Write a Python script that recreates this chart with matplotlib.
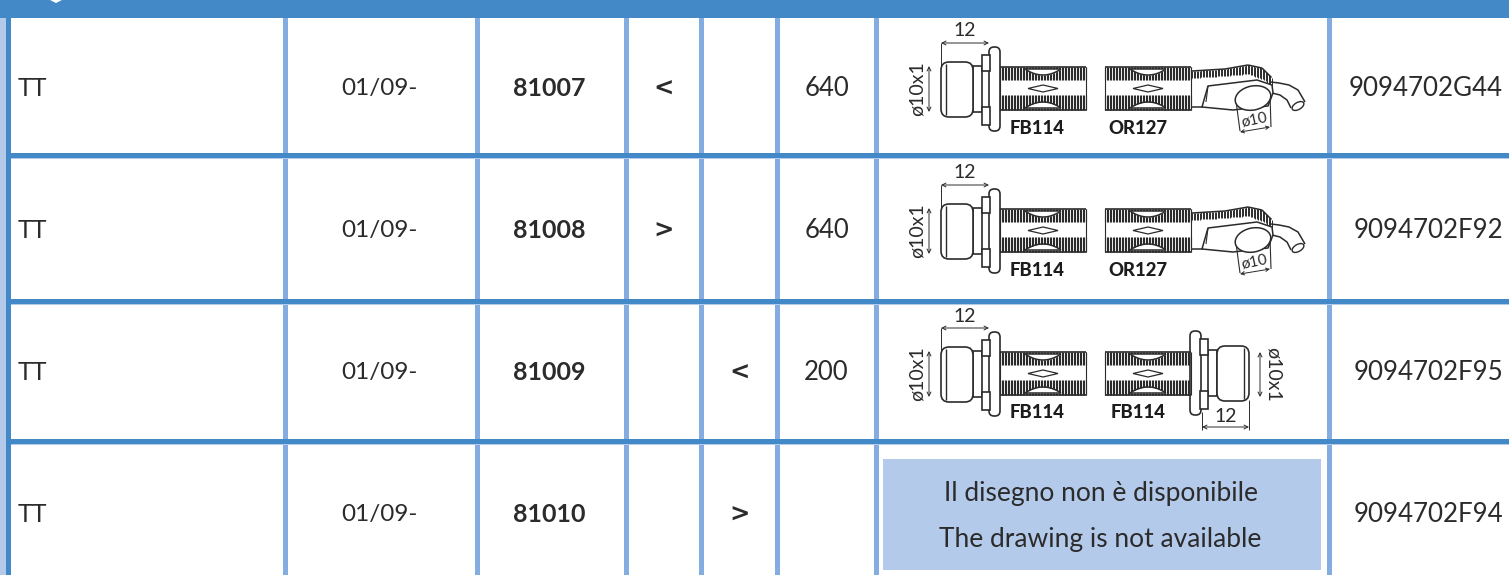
import numpy as np
import matplotlib
matplotlib.use('Agg')
import matplotlib.pyplot as plt
from matplotlib.patches import Rectangle, FancyBboxPatch, Polygon, Ellipse

# table content
models = ['TT', 'TT', 'TT', 'TT']
dates = ['01/09-', '01/09-', '01/09-', '01/09-']
codes = ['81007', '81008', '81009', '81010']
front = ['<', '>', '', '']
rear = ['', '', '<', '>']
lengths = ['640', '640', '200', '']
parts = ['9094702G44', '9094702F92', '9094702F95', '9094702F94']
left_labels = ['FB114', 'FB114', 'FB114']
right_labels = ['OR127', 'OR127', 'FB114']
no_drawing = ['Il disegno non è disponibile', 'The drawing is not available']

# layout in pixels
W, H = 1509, 575
col_lines = [285, 477, 626, 701, 777, 876, 1329]
row_lines = [156, 302, 442]
row_text_y = [88.5, 230.5, 372.5, 514.5]
draw_dy = [0, 142, 285]

DARK = '#4389c8'
LIGHT = '#85ace0'
PALE = '#b4caea'
INK = '#2b2b2b'

plt.rcParams['font.family'] = ['Lato', 'DejaVu Sans']

fig = plt.figure(figsize=(W / 100, H / 100), dpi=100)
ax = fig.add_axes([0, 0, 1, 1])
ax.set_xlim(0, W)
ax.set_ylim(H, 0)
ax.axis('off')


def box(x0, y0, x1, y1, color, z=1):
    ax.add_patch(Rectangle((x0, y0), x1 - x0, y1 - y0, fc=color, ec='none', zorder=z))


def line(xs, ys, lw=1.1, color=INK, z=4):
    ax.plot(xs, ys, color=color, lw=lw, solid_capstyle='butt', zorder=z)


def rounded(x0, y0, x1, y1, r, fc='white'):
    ax.add_patch(FancyBboxPatch((x0 + r, y0 + r), x1 - x0 - 2 * r, y1 - y0 - 2 * r,
                                boxstyle='round,pad=%f,rounding_size=%f' % (r, r),
                                fc=fc, ec=INK, lw=1.2, zorder=3))


def dim_h(x0, x1, y, label, ty):
    ax.annotate('', (x0, y), (x1, y), zorder=5,
                arrowprops=dict(arrowstyle='<->', lw=0.7, color=INK, shrinkA=0, shrinkB=0, mutation_scale=7))
    ax.text((x0 + x1) / 2, ty, label, ha='center', va='center', fontsize=14, color=INK, zorder=5)


def dim_v(x, y0, y1, label, tx, rot):
    ax.annotate('', (x, y0), (x, y1), zorder=5,
                arrowprops=dict(arrowstyle='<->', lw=0.7, color=INK, shrinkA=0, shrinkB=0, mutation_scale=7))
    ax.text(tx, (y0 + y1) / 2, label, ha='center', va='center', rotation=rot, fontsize=14, color=INK, zorder=5)


def fitting(edge, dy, side):
    # edge = flange face where the hose starts, side = -1 fitting on the left, +1 on the right
    def fx(d):
        return edge + side * d
    a, b = sorted((fx(0), fx(11)))
    rounded(a, 47 + dy, b, 131 + dy, 5)
    a, b = sorted((fx(10), fx(18)))
    ax.add_patch(Rectangle((a, 55 + dy), b - a, 16, fc='white', ec=INK, lw=1.2, zorder=3))
    ax.add_patch(Rectangle((a, 107 + dy), b - a, 18, fc='white', ec=INK, lw=1.2, zorder=3))
    a, b = sorted((fx(18), fx(27)))
    ax.add_patch(Rectangle((a, 66 + dy), b - a, 46, fc='white', ec=INK, lw=1.2, zorder=2.9))
    a, b = sorted((fx(27), fx(59)))
    rounded(a, 62 + dy, b, 117 + dy, 8)
    # line across the nut
    line([fx(54), fx(54)], [64 + dy, 115 + dy], 1.0)


def hose(x0, x1, dy):
    top, bot = 67 + dy, 110 + dy
    ticks = np.arange(x0, x1, 1.5)
    ax.vlines(ticks, top, top + 13, color=INK, lw=0.8, zorder=3)
    ax.vlines(ticks, bot - 15, bot, color=INK, lw=0.8, zorder=3)
    line([x0, x1], [top, top], 1.2)
    line([x0, x1], [bot, bot], 1.2)
    line([x1, x1], [top, bot], 0.8)
    line([x0, x0], [top, bot], 0.8)
    cx = (x0 + x1) / 2
    # crimp marks
    t = np.linspace(-1, 1, 25)
    upper = 69 + dy + 6 * (1 - t ** 2)
    ax.fill_between(cx + 18 * t, 68.5 + dy + 0 * t, upper, color='white', lw=0, zorder=4)
    line(cx + 18 * t, upper, 1.1)
    line([cx - 18, cx + 18], [69 + dy, 69 + dy], 1.1)
    lower = 108 + dy - 6 * (1 - t ** 2)
    ax.fill_between(cx + 18 * t, lower, 108 + dy + 0 * t, color='white', lw=0, zorder=4)
    line(cx + 18 * t, lower, 1.1)
    line([cx - 18, cx + 18], [108 + dy, 108 + dy], 1.1)
    ax.add_patch(Polygon([(cx - 15, 88.5 + dy), (cx, 85 + dy), (cx + 15, 88.5 + dy), (cx, 92 + dy)],
                         fc='white', ec=INK, lw=0.9, zorder=4))


def banjo(dy):
    # tail hose running into the eye fitting
    xs = np.arange(1192, 1272, 1.5)
    top = np.interp(xs, [1192, 1225, 1248, 1262, 1272], [71, 69, 65, 68, 78]) + dy
    bot = np.interp(xs, [1192, 1225, 1248, 1262, 1272], [78, 76, 74, 79, 86]) + dy
    ax.vlines(xs, top, bot, color=INK, lw=0.7, zorder=3)
    line(xs, top, 1.1)
    # curved outlet
    line([1271, 1279, 1289, 1298, 1305], [82 + dy, 83 + dy, 85 + dy, 90 + dy, 102 + dy], 1.1, z=4)
    line([1272, 1280, 1287, 1291], [93 + dy, 95 + dy, 100 + dy, 108 + dy], 1.1, z=4)
    ax.add_patch(Ellipse((1298, 106 + dy), 13, 7, angle=-30, fc='white', ec=INK, lw=1.0, zorder=5))
    # eye
    ax.add_patch(Polygon([(1208, 86 + dy), (1257, 80 + dy), (1272, 85 + dy), (1273, 93 + dy), (1268, 106 + dy),
                          (1233, 110 + dy), (1202, 107 + dy)], fc='white', ec=INK, lw=1.1, zorder=4, joinstyle='round'))
    line([1192, 1203], [107 + dy, 107 + dy], 1.1)
    line([1208, 1206], [86 + dy, 102 + dy], 0.8, z=5)
    # bore and dimension
    line([1236, 1240], [101 + dy, 131 + dy], 0.8, z=5)
    line([1270, 1271], [95 + dy, 127 + dy], 0.8, z=5)
    ax.add_patch(Ellipse((1253, 98 + dy), 36, 24, angle=-12, fc='white', ec=INK, lw=1.1, zorder=6))
    ax.annotate('', (1240, 132 + dy), (1270, 127 + dy), zorder=5,
                arrowprops=dict(arrowstyle='<->', lw=0.7, color=INK, shrinkA=0, shrinkB=0, mutation_scale=6))
    ax.text(1254, 120 + dy, 'ø10', ha='center', va='center', rotation=12, fontsize=11, color=INK, zorder=6)


# column and row rules
box(0, 0, W, H, 'white', 0)
box(0, 0, 6, H, PALE)
box(6, 0, 11, H, DARK)
for x in col_lines:
    box(x - 2.5, 0, x + 2.5, H, LIGHT)
box(0, 0, W, 18, DARK, 2)
ax.add_patch(Polygon([(50, 0), (62, 0), (56, 3)], fc='white', ec='none', zorder=3))
for y in row_lines:
    box(11, y - 3, W, y + 1.5, DARK, 2)
    box(11, y + 1.5, W, y + 3, PALE, 2)

# text columns
for i, y in enumerate(row_text_y):
    ax.text(18, y, models[i], ha='left', va='center', fontsize=18, color=INK)
    ax.text(379, y, dates[i], ha='center', va='center', fontsize=17.5, color=INK)
    ax.text(549, y, codes[i], ha='center', va='center', fontsize=18, fontweight='bold', color=INK)
    ax.text(664, y, front[i], ha='center', va='center', fontsize=17.5, fontweight='bold', family='DejaVu Sans', color=INK)
    ax.text(740, y, rear[i], ha='center', va='center', fontsize=17.5, fontweight='bold', family='DejaVu Sans', color=INK)
    ax.text(826.5, y, lengths[i], ha='center', va='center', fontsize=18.5, color=INK)
    ax.text(1503, y, parts[i], ha='right', va='center', fontsize=18.6, color=INK)

# hose drawings
for i, dy in enumerate(draw_dy):
    fitting(1000, dy, -1)
    dim_h(941, 989, 43 + dy, '12', 31 + dy)
    line([941, 941], [43 + dy, 66 + dy], 0.7)
    dim_v(929, 66 + dy, 112 + dy, 'ø10x1', 917, 90)
    hose(1000, 1086, dy)
    ax.text(1037, 128 + dy, left_labels[i], ha='center', va='center', fontsize=13.3, fontweight='black',
            color='#1c1c1c', zorder=5)
    ax.text(1138, 128 + dy, right_labels[i], ha='center', va='center', fontsize=13.3, fontweight='black',
            color='#1c1c1c', zorder=5)
    hose(1105, 1191, dy)
    if right_labels[i] == 'OR127':
        banjo(dy)
    else:
        fitting(1190, dy - 1, 1)
        dim_h(1202, 1249, 427, '12', 417)
        line([1202, 1202], [412, 430], 0.7)
        line([1249, 1249], [400, 430], 0.7)
        dim_v(1260, 352, 397, 'ø10x1', 1273, -90)

# placeholder box for the missing drawing
box(883, 459, 1321, 570, PALE, 3)
ax.text(1100.5, 493, no_drawing[0], ha='center', va='center', fontsize=19, color=INK, zorder=4)
ax.text(1100.5, 540, no_drawing[1], ha='center', va='center', fontsize=19, color=INK, zorder=4)

fig.savefig('out.png', dpi=100)
